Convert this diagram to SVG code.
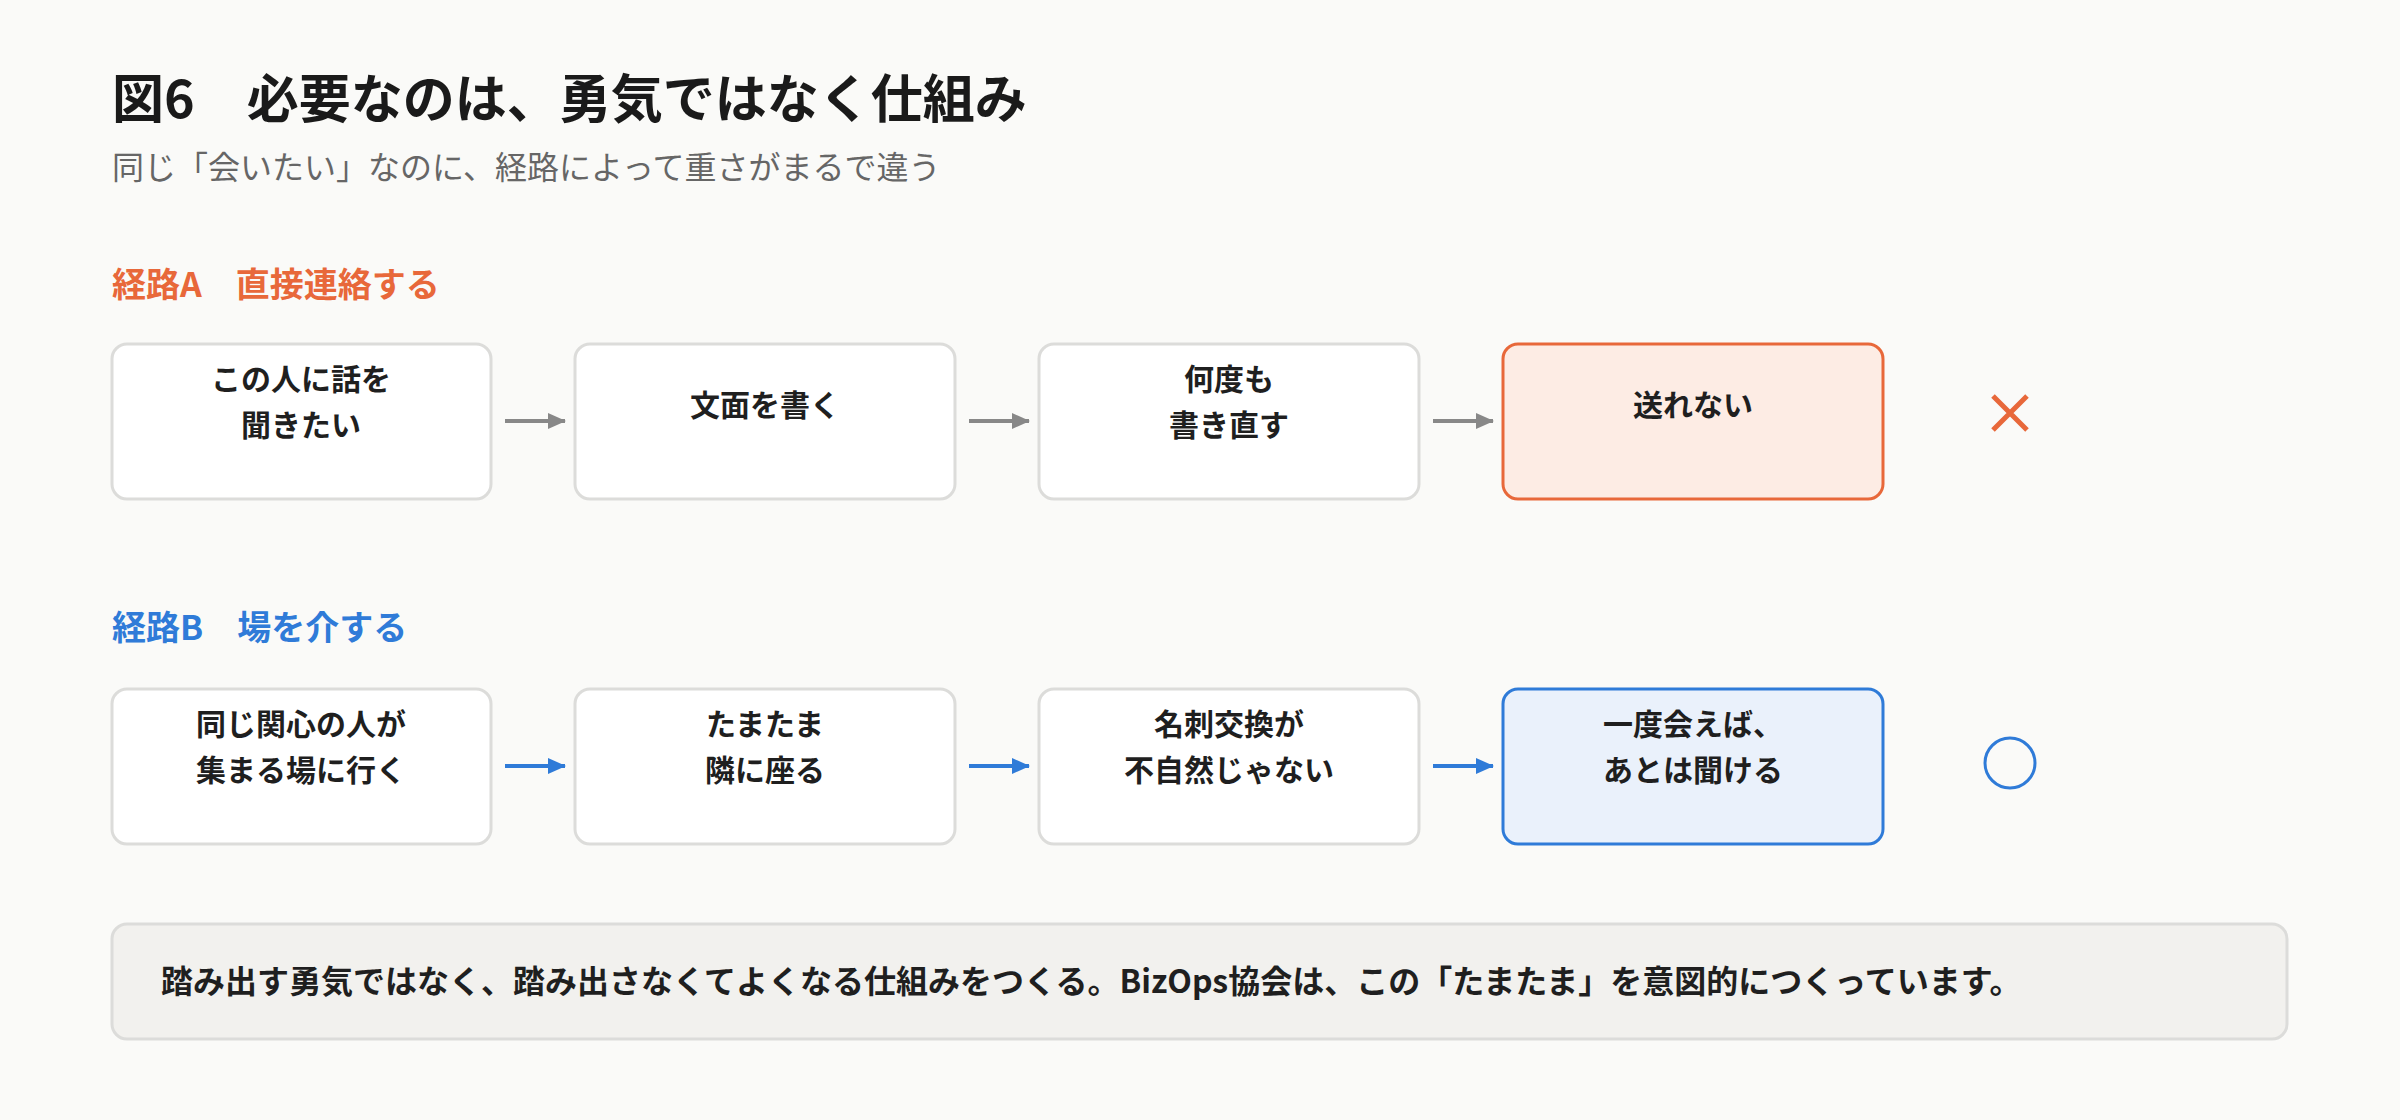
<svg xmlns="http://www.w3.org/2000/svg" width="2400" height="1120" viewBox="0 0 2400 1120">
<style>
text{font-family:"Noto Sans CJK JP","Noto Sans",sans-serif}
.t{font-size:52px;font-weight:700;fill:#1a1a1a}
.s{font-size:32px;fill:#666}
.h{font-size:34px;font-weight:700}
.box{fill:#fff;stroke:#dcdcda;stroke-width:3}
.bt{font-size:30px;font-weight:700;fill:#1f1f1f;text-anchor:middle}
.ga{stroke:#888;stroke-width:4;marker-end:url(#mg)}
.ba{stroke:#2F7BD8;stroke-width:4;marker-end:url(#mb)}
</style>
<defs>
<marker id="mg" markerWidth="18" markerHeight="16" refX="17" refY="8" orient="auto" markerUnits="userSpaceOnUse" viewBox="0 0 18 16"><path d="M0,0 L18,8 L0,16z" fill="#888"/></marker>
<marker id="mb" markerWidth="18" markerHeight="16" refX="17" refY="8" orient="auto" markerUnits="userSpaceOnUse" viewBox="0 0 18 16"><path d="M0,0 L18,8 L0,16z" fill="#2F7BD8"/></marker>
</defs>
<rect width="2400" height="1120" fill="#FAFAF8"/>
<text class="t" x="112" y="118">図6　必要なのは、勇気ではなく仕組み</text>
<text class="s" x="112" y="179">同じ「会いたい」なのに、経路によって重さがまるで違う</text>
<text class="h" x="112" y="297" fill="#E8683A">経路A　直接連絡する</text>
<text class="h" x="112" y="640" fill="#2F7BD8">経路B　場を介する</text>
<g id="a1"><rect class="box" x="112" y="344" width="379" height="155" rx="15"/><text class="bt" x="301" y="390">この人に話を</text><text class="bt" x="301" y="436">聞きたい</text></g>
<g id="a2"><rect class="box" x="575" y="344" width="380" height="155" rx="15"/><text class="bt" x="765" y="416">文面を書く</text></g>
<g id="a3"><rect class="box" x="1039" y="344" width="380" height="155" rx="15"/><text class="bt" x="1229" y="390">何度も</text><text class="bt" x="1229" y="436">書き直す</text></g>
<g id="a4"><rect x="1503" y="344" width="380" height="155" rx="15" fill="#FDECE4" stroke="#E8683A" stroke-width="3"/><text class="bt" x="1693" y="416">送れない</text></g>
<g id="ax"><path d="M1993,396 L2027,430 M2027,396 L1993,430" stroke="#E8683A" stroke-width="5"/></g>
<g id="b1"><rect class="box" x="112" y="689" width="379" height="155" rx="15"/><text class="bt" x="301" y="735">同じ関心の人が</text><text class="bt" x="301" y="781">集まる場に行く</text></g>
<g id="b2"><rect class="box" x="575" y="689" width="380" height="155" rx="15"/><text class="bt" x="765" y="735">たまたま</text><text class="bt" x="765" y="781">隣に座る</text></g>
<g id="b3"><rect class="box" x="1039" y="689" width="380" height="155" rx="15"/><text class="bt" x="1229" y="735">名刺交換が</text><text class="bt" x="1229" y="781">不自然じゃない</text></g>
<g id="b4"><rect x="1503" y="689" width="380" height="155" rx="15" fill="#EAF1FB" stroke="#2F7BD8" stroke-width="3"/><text class="bt" x="1693" y="735">一度会えば、</text><text class="bt" x="1693" y="781">あとは聞ける</text></g>
<g id="bo"><circle cx="2010" cy="763" r="25" fill="none" stroke="#2F7BD8" stroke-width="3"/></g>
<g id="connectors">
<line class="ga" x1="505" y1="421" x2="565" y2="421"/>
<line class="ga" x1="969" y1="421" x2="1029" y2="421"/>
<line class="ga" x1="1433" y1="421" x2="1493" y2="421"/>
<line class="ba" x1="505" y1="766" x2="565" y2="766"/>
<line class="ba" x1="969" y1="766" x2="1029" y2="766"/>
<line class="ba" x1="1433" y1="766" x2="1493" y2="766"/>
</g>
<g id="note"><rect x="112" y="924" width="2175" height="115" rx="15" fill="#F2F1EE" stroke="#dcdcda" stroke-width="3"/><text x="161" y="993" font-size="32" font-weight="700" fill="#1f1f1f">踏み出す勇気ではなく、踏み出さなくてよくなる仕組みをつくる。BizOps協会は、この「たまたま」を意図的につくっています。</text></g>
</svg>
